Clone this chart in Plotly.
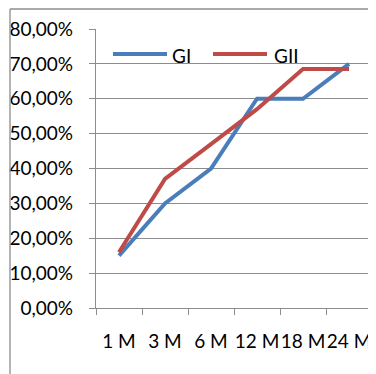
import plotly.graph_objects as go

categories = ["1 M", "3 M", "6 M", "12 M", "18 M", "24 M"]
gi = [0.15, 0.30, 0.40, 0.60, 0.60, 0.70]
gii = [0.16, 0.37, 0.47, 0.57, 0.685, 0.685]
series_names = ["GI", "GII"]
colors = ["#4A7EBB", "#BE4B48"]
y_ticks = [0, 0.1, 0.2, 0.3, 0.4, 0.5, 0.6, 0.7, 0.8]

FONT = "Lato"
FS = 19
OFF = 8  # page body margin
W, H = 376 - OFF, 374 - OFF
L, R, T, B = 96 - OFF, 4, 29 - OFF, 66
pw, ph = W - L - R, H - T - B

def px_x(x):
    return (x - OFF - L) / pw

def px_y(y):
    return (H - B - (y - OFF)) / ph

fig = go.Figure()
for name, vals, c in zip(series_names, [gi, gii], colors):
    fig.add_trace(go.Scatter(x=categories, y=vals, mode="lines", name=name,
                             line=dict(color=c, width=4), showlegend=False))

shapes = [
    dict(type="line", xref="paper", yref="paper", x0=px_x(10), x1=px_x(10),
         y0=px_y(9), y1=px_y(380), line=dict(color="#8c8c8c", width=1.3)),
    dict(type="line", xref="paper", yref="paper", x0=px_x(10), x1=px_x(380),
         y0=px_y(9), y1=px_y(9), line=dict(color="#8c8c8c", width=1.3)),
]
annotations = []
legend_pos = [(113, 167, 170), (213, 267, 272)]
for (x0, x1, tx), name, c in zip(legend_pos, series_names, colors):
    shapes.append(dict(type="line", xref="paper", yref="paper", x0=px_x(x0), x1=px_x(x1),
                       y0=px_y(54), y1=px_y(54), line=dict(color=c, width=4)))
    annotations.append(dict(xref="paper", yref="paper", x=px_x(tx), y=px_y(55),
                            text=name, showarrow=False, xanchor="left", yanchor="middle",
                            font=dict(family=FONT, size=FS, color="#000")))

fig.update_layout(
    width=W, height=H,
    margin=dict(l=L, r=R, t=T, b=B, autoexpand=False),
    paper_bgcolor="white", plot_bgcolor="white",
    separators=",.",
    shapes=shapes, annotations=annotations,
    font=dict(family=FONT, size=FS, color="#000"),
)
fig.update_xaxes(type="category", range=[-0.5, len(categories) - 0.5],
                 tickson="boundaries", ticks="outside", ticklen=6, tickangle=0,
                 tickcolor="#8c8c8c", showline=True, linecolor="#8c8c8c", linewidth=1.3,
                 showgrid=False, ticklabelstandoff=16, automargin=False,
                 tickfont=dict(family=FONT, size=FS))
fig.update_yaxes(range=[0, 0.8], tickvals=y_ticks, tickformat=".2%", ticks="outside",
                 ticklen=6, tickcolor="#8c8c8c", showline=True, linecolor="#8c8c8c",
                 linewidth=1.3, showgrid=True, gridcolor="#8c8c8c", gridwidth=1.3,
                 zeroline=False, ticklabelstandoff=12, automargin=False,
                 tickfont=dict(family=FONT, size=FS))

fig.write_html("out.html")
